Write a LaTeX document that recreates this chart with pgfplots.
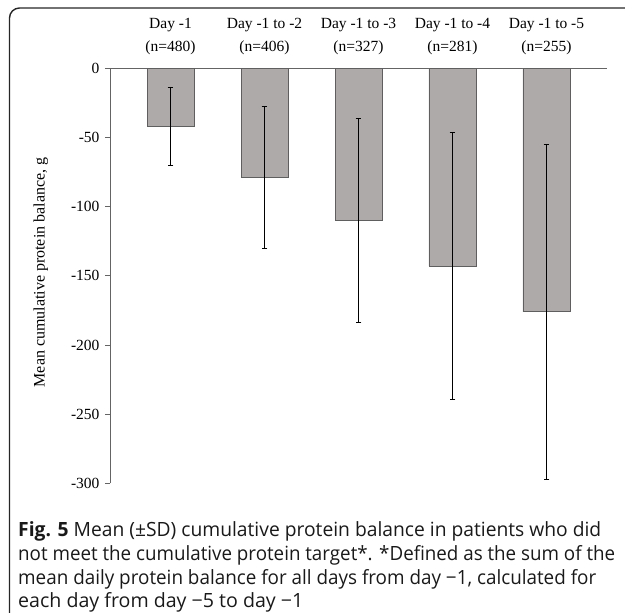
\documentclass[border=0pt]{standalone}
\usepackage{pgfplots}
\pgfplotsset{compat=1.18}
\usepackage{fontspec}
\setmainfont{Liberation Serif}
\newfontfamily\capfont{Open Sans}
\definecolor{barfill}{RGB}{174,170,170}
\definecolor{baredge}{RGB}{95,95,95}
\definecolor{axisgray}{RGB}{100,100,100}
\begin{document}
\begin{tikzpicture}[x=1pt,y=1pt]
\useasboundingbox (0,0) rectangle (625,613);
\begin{scope}
\clip (0,0) rectangle (625,613);
\draw[line width=1.4pt, black!85, rounded corners=10pt] (9.5,-30) rectangle (660,605);
\end{scope}
\begin{axis}[
  at={(110pt,129.7pt)}, anchor=south west,
  scale only axis, width=497pt, height=415pt,
  xmin=-0.644, xmax=4.644, ymin=-300, ymax=0,
  axis x line=top, axis y line=left,
  axis line style={-, line width=0.9pt, axisgray},
  xtick={0,1,2,3,4},
  xticklabels={{Day -1\\(n=480)},{Day -1 to -2\\(n=406)},{Day -1 to -3\\(n=327)},{Day -1 to -4\\(n=281)},{Day -1 to -5\\(n=255)}},
  xtick style={draw=none},
  xticklabel style={align=center, font=\fontsize{15.5}{23}\selectfont, yshift=5pt},
  ytick={-300,-250,-200,-150,-100,-50,0},
  yticklabels={-300,-250,-200,-150,-100,-50,0},
  yticklabel style={font=\fontsize{15.5}{18}\selectfont, xshift=-2pt},
  tick align=outside, major tick length=5pt,
  ytick style={line width=0.9pt, axisgray},
  ylabel={Mean cumulative protein balance, g},
  every axis y label/.style={at={(rel axis cs:-0.139,0.508)}, rotate=90, anchor=center, font=\fontsize{16}{18}\selectfont},
  clip=false,
]
\addplot[ybar, bar width=47pt, fill=barfill, draw=baredge, line width=0.9pt,
  error bars/.cd, y dir=both, y explicit,
  error bar style={black, line width=0.8pt},
  error mark options={rotate=90, mark size=2.8pt, black, line width=0.8pt}]
  coordinates {
  (0,-42) +- (0,28.5)
  (1,-79) +- (0,51.5)
  (2,-110) +- (0,74)
  (3,-143) +- (0,96.5)
  (4,-176) +- (0,121)
  };
\end{axis}
\begin{scope}[every node/.style={anchor=base west, inner sep=0pt, font=\capfont\fontsize{19.6}{22}\selectfont, text=black!90}]
\node at (18,76) {\resizebox{583pt}{\height}{\textbf{Fig. 5} Mean (±SD) cumulative protein balance in patients who did}};
\node at (18,52) {\resizebox{597pt}{\height}{not meet the cumulative protein target*. *Defined as the sum of the}};
\node at (18,28) {\resizebox{578pt}{\height}{mean daily protein balance for all days from day −1, calculated for}};
\node at (18,5) {each day from day −5 to day −1};
\end{scope}
\end{tikzpicture}
\end{document}
